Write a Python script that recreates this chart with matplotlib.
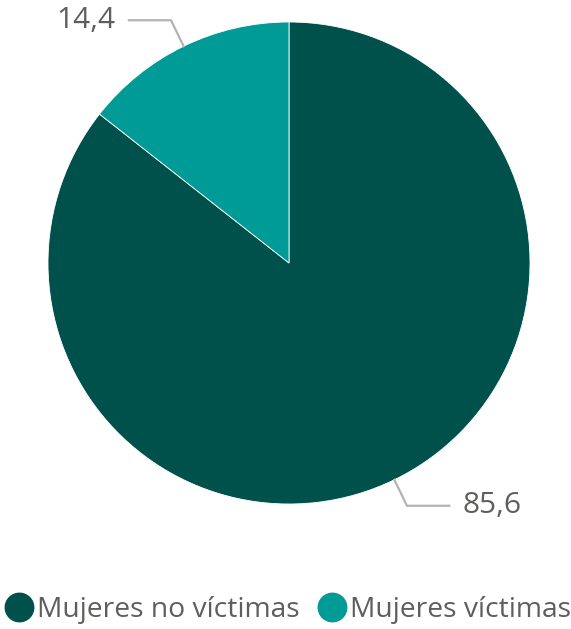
import matplotlib
matplotlib.use("Agg")
import matplotlib.pyplot as plt
from matplotlib.lines import Line2D
import numpy as np

categories = ["Mujeres no víctimas", "Mujeres víctimas"]
values = [85.6, 14.4]
labels = ["85,6", "14,4"]
colors = ["#00504C", "#009A97"]
text_color = "#605E5C"
line_color = "#B3B3B3"

plt.rcParams['font.family'] = ['Open Sans', 'DejaVu Sans']

fig = plt.figure(figsize=(5.71, 6.29), dpi=100)
ax = fig.add_axes([48/571, 125/629, 482/571, 482/629])
wedges, _ = ax.pie(values, colors=colors, startangle=90, counterclock=False,
                   radius=1, wedgeprops=dict(linewidth=0.6, edgecolor="white"))
ax.set_xlim(-1, 1)
ax.set_ylim(-1, 1)
ax.set_aspect('equal')
ax.axis('off')

for w, lab in zip(wedges, labels):
    ang = np.deg2rad((w.theta1 + w.theta2) / 2)
    x0, y0 = np.cos(ang), np.sin(ang)
    x1, y1 = 1.12 * x0, 1.12 * y0
    sign = 1 if x0 > 0 else -1
    x2 = x1 + sign * 0.175
    ax.plot([x0, x1, x2], [y0, y1, y1], color=line_color, lw=1.6,
            clip_on=False, solid_joinstyle='miter')
    ax.text(x2 + sign * 0.055, y1, lab, ha='left' if sign > 0 else 'right',
            va='center', fontsize=21.5, color=text_color)

handles = [Line2D([], [], marker='o', linestyle='none', markersize=20.5,
                  markerfacecolor=c, markeredgecolor=c) for c in colors]
fig.legend(handles, categories, loc='center', bbox_to_anchor=(288/571, 1 - 610/629),
           ncol=2, frameon=False, fontsize=20.3, labelcolor=text_color,
           handletextpad=0.13, columnspacing=0.67, handlelength=1.0,
           borderaxespad=0, borderpad=0)

fig.savefig("out.png", dpi=100)
